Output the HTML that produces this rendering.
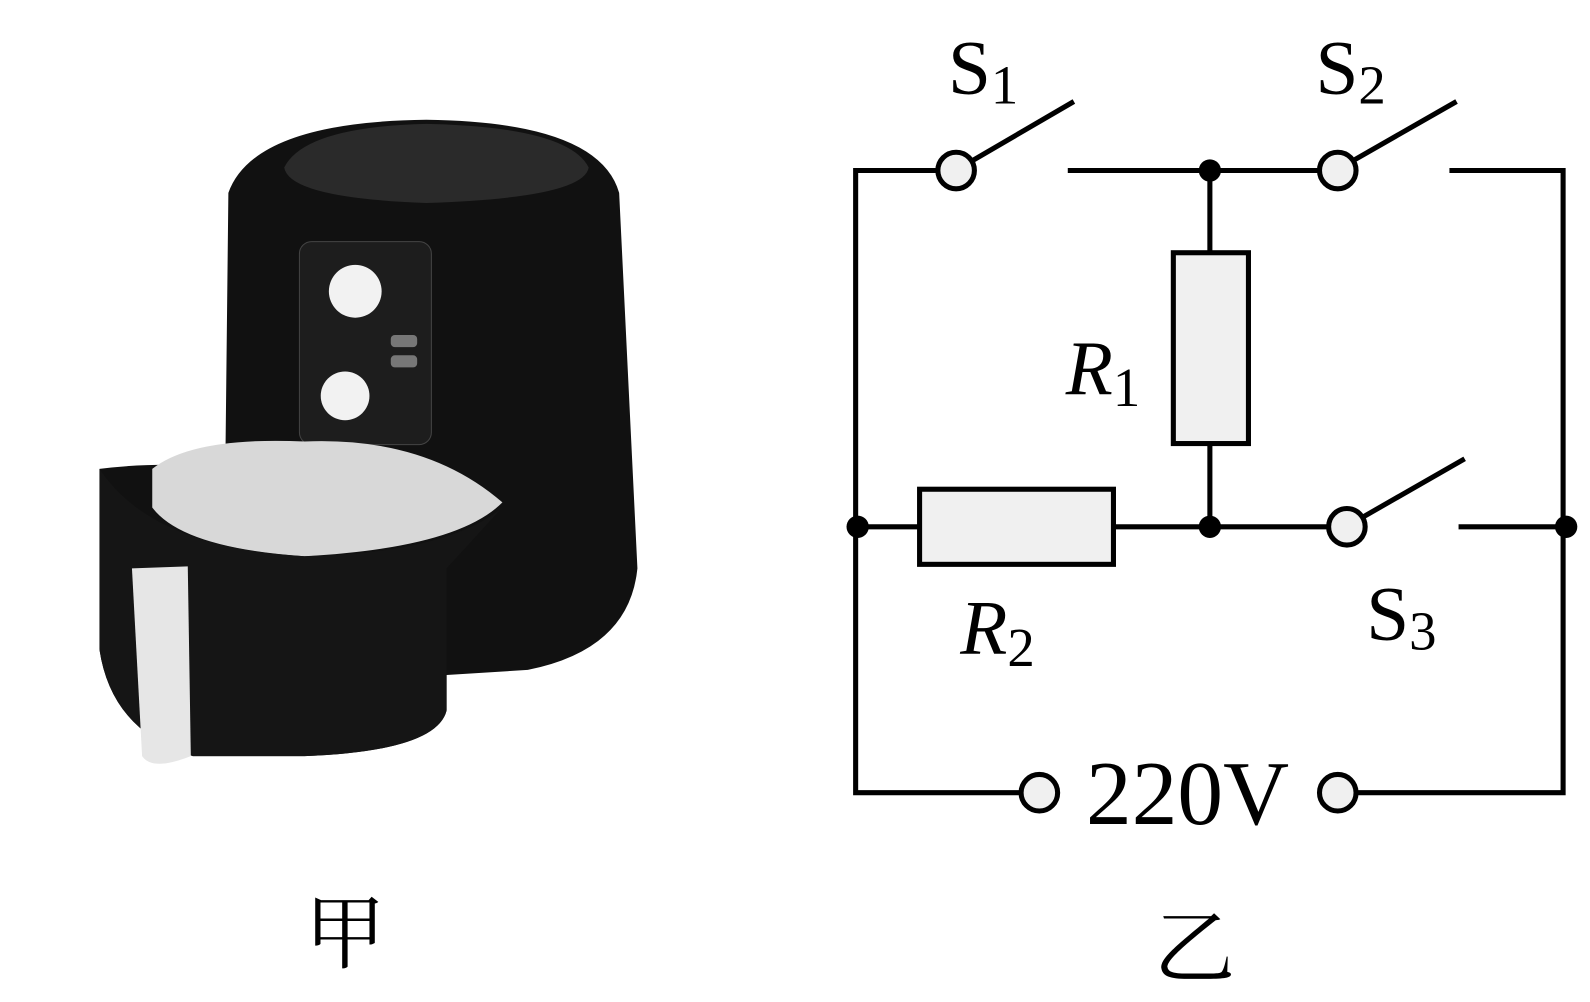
<!DOCTYPE html>
<html><head><meta charset="utf-8"><style>
html,body{margin:0;padding:0;background:#fff;}
svg{display:block}
text{font-family:"Liberation Serif","Noto Serif CJK SC",serif;fill:#000}
</style></head><body>
<svg width="1590" height="1002" viewBox="0 0 1590 1002" xmlns="http://www.w3.org/2000/svg">
<g transform="scale(1.015)">
<!-- Air fryer -->
<g>
<path d="M225,190 Q250,120 420,118 Q590,120 610,190 L628,560 Q620,640 520,660 L440,665 L440,700 Q430,740 300,745 L190,745 Q110,720 98,640 L98,462 Q150,455 222,460 Z" fill="#111"/>
<path d="M280,165 Q300,125 420,122 Q560,125 580,165 Q575,195 420,200 Q285,195 280,165Z" fill="#2a2a2a"/>
<rect x="295" y="238" width="130" height="200" rx="12" fill="#1d1d1d" stroke="#444"/>
<circle cx="350" cy="287" r="26" fill="#f2f2f2"/>
<circle cx="340" cy="390" r="24" fill="#f2f2f2"/>
<rect x="385" y="330" width="26" height="12" rx="4" fill="#777"/>
<rect x="385" y="350" width="26" height="12" rx="4" fill="#777"/>
<path d="M150,462 Q190,430 300,435 Q420,430 495,495 Q450,540 300,548 Q180,540 150,500Z" fill="#d8d8d8"/>
<path d="M98,462 Q150,540 300,548 Q440,545 495,500 L440,560 L440,700 Q430,740 300,745 L190,745 Q110,720 98,640 Z" fill="#151515"/>
<path d="M130,560 L185,558 L188,745 Q150,760 140,745 Z" fill="#e6e6e6"/>
</g>
<!-- circuit -->
<g stroke="#000" stroke-width="5" fill="none">
<polyline points="1024,781 843,781 843,168 924,168"/>
<line x1="955" y1="160" x2="1058" y2="100"/>
<line x1="1052" y1="168" x2="1300" y2="168"/>
<line x1="1330" y1="160" x2="1435" y2="100"/>
<polyline points="1428,168 1540,168 1540,781 1336,781"/>
<line x1="1192" y1="168" x2="1192" y2="249"/>
<line x1="1192" y1="437" x2="1192" y2="519"/>
<line x1="845" y1="519" x2="906" y2="519"/>
<line x1="1097" y1="519" x2="1309" y2="519"/>
<line x1="1340" y1="511" x2="1443" y2="452"/>
<line x1="1437" y1="519" x2="1540" y2="519"/>
<rect x="1156" y="249" width="74" height="188" fill="#f0f0f0"/>
<rect x="906" y="482" width="191" height="74" fill="#f0f0f0"/>
<circle cx="942" cy="168" r="18" fill="#f0f0f0"/>
<circle cx="1318" cy="168" r="18" fill="#f0f0f0"/>
<circle cx="1327" cy="519" r="18" fill="#f0f0f0"/>
<circle cx="1024" cy="781" r="18" fill="#f0f0f0"/>
<circle cx="1318" cy="781" r="18" fill="#f0f0f0"/>
</g>
<g fill="#000">
<circle cx="1192" cy="168" r="11"/><circle cx="1192" cy="519" r="11"/>
<circle cx="845" cy="519" r="11"/><circle cx="1543" cy="519" r="11"/>
</g>
<text x="934" y="92" font-size="76">S<tspan font-size="54" dy="10">1</tspan></text>
<text x="1296" y="92" font-size="76">S<tspan font-size="54" dy="10">2</tspan></text>
<text x="1346" y="630" font-size="76">S<tspan font-size="54" dy="10">3</tspan></text>
<text x="1050" y="388" font-size="76" font-style="italic">R<tspan font-size="54" font-style="normal" dy="12">1</tspan></text>
<text x="946" y="644" font-size="76" font-style="italic">R<tspan font-size="54" font-style="normal" dy="12">2</tspan></text>
<text x="1170" y="812" font-size="90" text-anchor="middle">220V</text>
<text x="340" y="948" font-size="80" text-anchor="middle">甲</text>
<text x="1177" y="962" font-size="80" text-anchor="middle">乙</text>
</g>
</svg>
</body></html>
